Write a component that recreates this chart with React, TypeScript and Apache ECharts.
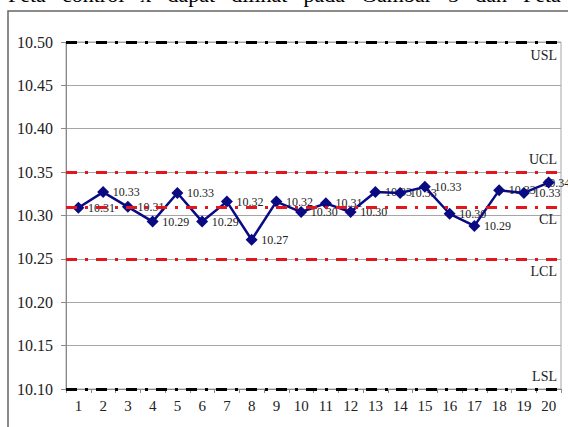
import React, { useEffect, useRef } from "react";
import * as echarts from "echarts";

const categories = ["1","2","3","4","5","6","7","8","9","10","11","12","13","14","15","16","17","18","19","20"];
const means = [10.309, 10.327, 10.310, 10.293, 10.326, 10.293, 10.316, 10.272, 10.316, 10.304, 10.314, 10.304, 10.327, 10.326, 10.333, 10.302, 10.288, 10.329, 10.326, 10.338];
const meanLabels = ["10.31","10.33","10.31","10.29","10.33","10.29","10.32","10.27","10.32","10.30","10.31","10.30","10.33","10.33","10.33","10.30","10.29","10.33","10.33","10.34"];
const limitNames = ["USL", "UCL", "CL", "LCL", "LSL"];
const limitValues = [10.50, 10.351, 10.308, 10.251, 10.10];
const yTicks = { min: 10.10, max: 10.50, interval: 0.05 };
const captionWords = ["Peta", "control", "x\u0304", "dapat", "dilihat", "pada", "Gambar", "5", "dan", "Peta"];

const SERIF = '"Liberation Serif", "Times New Roman", serif';

function captionGraphics() {
  const size = 22;
  const canvas = document.createElement("canvas");
  const ctx = canvas.getContext("2d");
  const widths = captionWords.map((w) => {
    if (!ctx) return w.length * size * 0.45;
    ctx.font = `${size}px "Liberation Serif"`;
    return ctx.measureText(w).width;
  });
  const startX = 8;
  const lastStart = 523;
  const sumW = widths.slice(0, widths.length - 1).reduce((a, b) => a + b, 0);
  const gap = (lastStart - startX - sumW) / (captionWords.length - 1);
  let x = startX;
  return captionWords.map((w, i) => {
    const el = {
      type: "text",
      x,
      y: 5,
      silent: true,
      style: {
        text: w,
        fontFamily: SERIF,
        fontSize: size,
        fill: "#000",
        verticalAlign: "bottom",
      },
    };
    x += widths[i] + gap;
    return el;
  });
}

export default function App() {
  const ref = useRef<HTMLDivElement>(null);
  useEffect(() => {
    if (!ref.current) return;
    const chart = echarts.init(ref.current, null, { renderer: "svg" });
    const limitStyles: any = {
      USL: { color: "#000", pos: "insideEndBottom" },
      UCL: { color: "#e3151d", pos: "insideEndTop" },
      CL: { color: "#e3151d", pos: "insideEndBottom" },
      LCL: { color: "#e3151d", pos: "insideEndBottom" },
      LSL: { color: "#000", pos: "insideEndTop" },
    };
    const markData = limitNames.map((n, i) => ({
      name: n,
      yAxis: limitValues[i],
      lineStyle: {
        color: limitStyles[n].color,
        width: 3,
        type: [11, 8, 3, 8],
      },
      label: {
        show: true,
        formatter: n,
        position: limitStyles[n].pos,
        color: "#222",
        fontFamily: SERIF,
        fontSize: 14,
        distance: [4, 6],
      },
    }));
    chart.setOption({
      animation: false,
      backgroundColor: "#fff",
      grid: {
        left: 66,
        right: 7,
        top: 42,
        bottom: 38,
        show: true,
        borderColor: "#a6a6a6",
        borderWidth: 1,
      },
      graphic: [
        {
          type: "rect",
          shape: { x: 8, y: 11, width: 620, height: 480 },
          style: { fill: "none", stroke: "#666", lineWidth: 1.5 },
          silent: true,
        },
        ...captionGraphics(),
      ],
      xAxis: {
        type: "category",
        data: categories,
        boundaryGap: true,
        axisLine: { show: true, lineStyle: { color: "#888" } },
        axisTick: { show: true, length: 4, lineStyle: { color: "#888" } },
        axisLabel: { color: "#222", fontFamily: SERIF, fontSize: 15, margin: 9 },
      },
      yAxis: {
        type: "value",
        min: yTicks.min,
        max: yTicks.max,
        interval: yTicks.interval,
        axisLine: { show: true, lineStyle: { color: "#888" } },
        axisTick: { show: true, length: 5, lineStyle: { color: "#888" } },
        axisLabel: {
          color: "#222",
          fontFamily: SERIF,
          fontSize: 16,
          margin: 13,
          formatter: (v: number) => v.toFixed(2),
        },
        splitLine: { show: true, lineStyle: { color: "#a6a6a6", width: 1 } },
      },
      series: [
        {
          name: "labels",
          type: "line",
          data: means,
          symbol: "circle",
          symbolSize: 1,
          showSymbol: true,
          itemStyle: { color: "rgba(0,0,0,0)" },
          lineStyle: { width: 0, color: "rgba(0,0,0,0)" },
          z: 1,
          label: {
            show: true,
            position: "right",
            distance: 9,
            color: "#222",
            fontFamily: SERIF,
            fontSize: 12,
            formatter: (p: any) => meanLabels[p.dataIndex],
          },
          labelLayout: (p: any) =>
            p.dataIndex === means.length - 1 ? { dx: -15 } : {},
        },
        {
          name: "limits",
          type: "line",
          data: [],
          z: 2,
          markLine: {
            silent: true,
            symbol: "none",
            data: markData,
          },
        },
        {
          name: "mean",
          type: "line",
          data: means,
          symbol: "diamond",
          symbolSize: 12,
          itemStyle: { color: "#0a0a82" },
          lineStyle: { color: "#0a0a82", width: 2.5 },
          z: 3,
        },
      ],
    });
    return () => chart.dispose();
  }, []);
  return (
    <div
      ref={ref}
      style={{ position: "absolute", left: 0, top: 0, width: 568, height: 427 }}
    />
  );
}
